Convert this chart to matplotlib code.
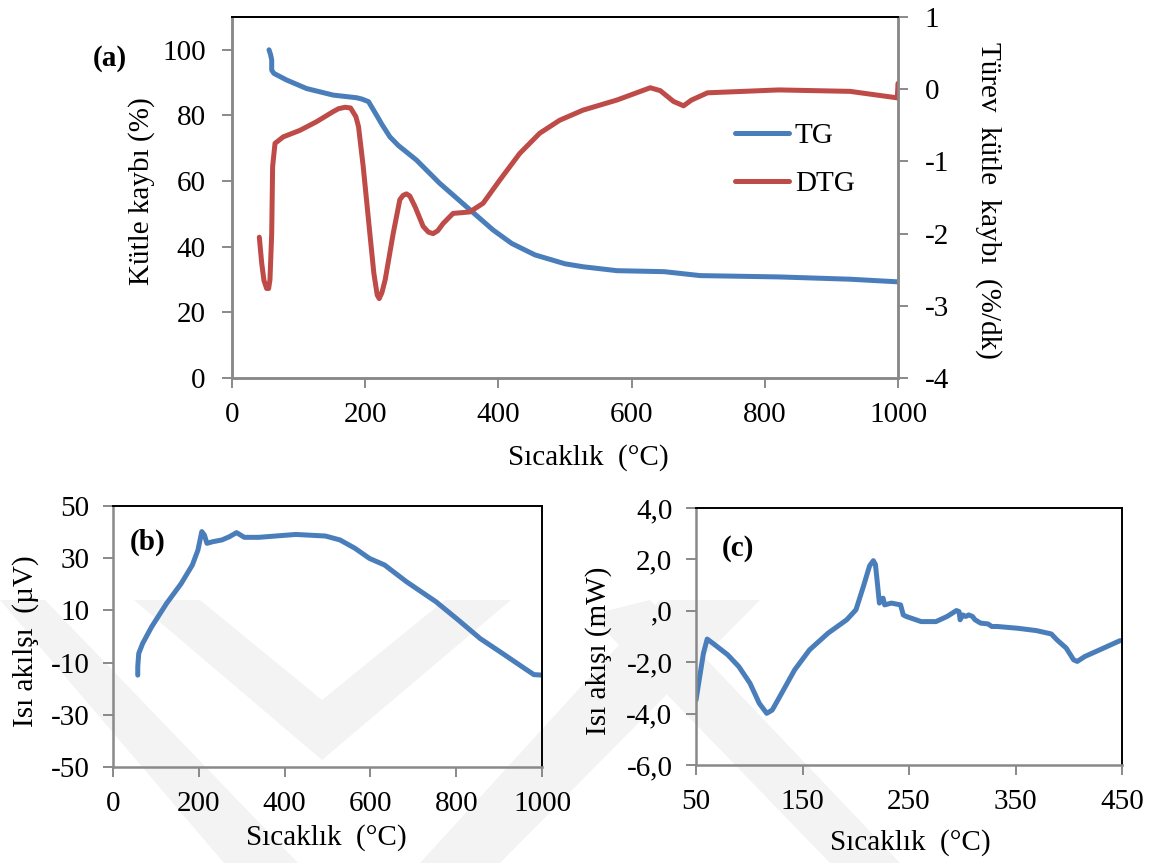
import matplotlib
matplotlib.use('Agg')
import matplotlib.pyplot as plt
from matplotlib.patches import Polygon

plt.rcParams['font.family'] = ['Liberation Serif', 'DejaVu Serif']
plt.rcParams['axes.unicode_minus'] = False

W, H = 1162, 863
blue = '#4A7EBB'
red = '#BE4B48'
grey = '#898989'

# (a) TG / DTG
tg_t = [55.6, 58, 59.6, 59.6, 63, 82, 112, 152, 187, 195, 205, 217, 225, 237, 250,
        277, 312, 352, 392, 420, 455, 500, 527, 578, 649, 703, 821, 928, 1000]
tg = [100, 98.5, 96.9, 93.8, 92.8, 90.8, 88.2, 86.2, 85.4, 85.0, 84.2, 80.1, 77.3,
      73.5, 70.8, 66.4, 59.3, 52.2, 45.1, 41.0, 37.5, 34.8, 33.9, 32.7, 32.4,
      31.2, 30.8, 30.1, 29.3]

dtg_t = [41, 44.6, 48, 52, 55, 57, 59.6, 61, 64.6, 77, 102, 127, 152, 160, 170,
         178, 186, 190, 197, 207, 213, 218, 221, 225, 230, 242, 252, 257, 262,
         267, 275, 287, 295, 302, 309, 317, 332, 345, 357, 377, 402, 432, 462,
         492, 527, 578, 628, 643, 663, 678, 690, 714, 821, 928, 999, 1000]
dtg = [-2.05, -2.41, -2.65, -2.76, -2.76, -2.64, -2.0, -1.07, -0.75, -0.66, -0.57,
       -0.45, -0.31, -0.27, -0.25, -0.26, -0.38, -0.52, -1.07, -2.0, -2.55, -2.85,
       -2.90, -2.82, -2.64, -2.0, -1.53, -1.47, -1.45, -1.48, -1.63, -1.90, -1.98,
       -2.0, -1.96, -1.86, -1.72, -1.71, -1.70, -1.58, -1.26, -0.89, -0.61, -0.43,
       -0.29, -0.15, 0.02, -0.02, -0.17, -0.23, -0.15, -0.05, -0.01, -0.03,
       -0.12, 0.08]

# (b) heat flow, uV
b_t = [57.7, 57.7, 60, 69, 90, 125, 159, 185, 198, 207, 213, 219, 232, 254, 271,
       288, 306, 340, 426, 495, 529, 564, 598, 633, 684, 753, 805, 856, 908, 960,
       981, 1000]
b_v = [-14.8, -11.6, -6.5, -2.7, 3.7, 12.7, 20.3, 27.4, 33.1, 40.2, 38.9, 35.7,
       36.3, 37.0, 38.2, 39.8, 38.0, 38.0, 39.1, 38.5, 37.0, 33.8, 29.9, 27.4,
       21.0, 13.3, 6.3, -0.8, -6.5, -12.3, -14.6, -14.8]

# (c) heat flow, mW
c_t = [50, 53.5, 57, 60.5, 65.7, 79.7, 90.2, 100.7, 109.4, 116.4, 121.6, 130.4,
       142.6, 156.6, 174, 191.5, 200.2, 207.2, 213, 216.5, 218.5, 220, 222.2, 223.6,
       225.7, 227.1, 233.4, 242.1, 244.6, 247.4, 261.4, 275.3, 285.8, 294.5, 297,
       298, 300.5, 303.3, 306, 309.6, 312, 317.3, 324.2, 327.7, 333, 352.2, 369.6,
       383.6, 388.9, 397.6, 404.6, 408, 415, 429, 448.2]
c_v = [-3.47, -2.56, -1.65, -1.10, -1.26, -1.71, -2.17, -2.82, -3.60, -3.99, -3.86,
       -3.21, -2.30, -1.52, -0.87, -0.35, 0.04, 0.95, 1.75, 1.95, 1.80, 1.20, 0.30,
       0.43, 0.49, 0.23, 0.30, 0.23, -0.16, -0.22, -0.42, -0.42, -0.22, 0.01,
       -0.03, -0.35, -0.16, -0.22, -0.16, -0.22, -0.35, -0.48, -0.51, -0.61, -0.61,
       -0.68, -0.77, -0.90, -1.13, -1.45, -1.91, -1.97, -1.78, -1.52, -1.16]
c_ticks = [-6, -4, -2, 0, 2, 4]
c_labels = ['-6,0', '-4,0', '-2,0', ',0', '2,0', '4,0']

xlab = 'Sıcaklık  (°C)'
fs = 21


def box(l, t, r, b):
    return [l / W, 1 - b / H, (r - l) / W, (b - t) / H]


def px(x, y):
    return (x / W, 1 - y / H)


def style(ax, right_col='black'):
    ax.set_facecolor('none')
    for s in ['left', 'bottom']:
        ax.spines[s].set_color(grey)
        ax.spines[s].set_linewidth(1.8)
    ax.spines['top'].set_color('black')
    ax.spines['top'].set_linewidth(1.4)
    ax.spines['right'].set_color(right_col)
    ax.spines['right'].set_linewidth(1.4 if right_col == 'black' else 1.8)
    ax.tick_params(direction='out', length=7, width=1.4, color=grey,
                   labelsize=fs, pad=10)


fig = plt.figure(figsize=(W / 100, H / 100), dpi=100)

# watermark bands
wm = [
    [(0, 600), (45, 600), (298, 863), (224, 863)],
    [(134, 600), (200, 600), (322, 700), (445, 600), (511, 600), (322, 760)],
    [(420, 863), (500, 863), (760, 600), (660, 600)],
    [(590, 615), (650, 600), (900, 863), (830, 863)],
]
for pts in wm:
    fig.add_artist(Polygon([px(x, y) for x, y in pts], closed=True,
                           transform=fig.transFigure, facecolor='#F3F3F3',
                           edgecolor='none', zorder=-5))

# (a)
ax = fig.add_axes(box(232, 17, 898, 378))
style(ax, grey)
ax.plot(tg_t, tg, color=blue, lw=3.6, solid_capstyle='round', label='TG')
ax.set_xlim(0, 1000)
ax.set_ylim(0, 110)
ax.set_xticks(range(0, 1001, 200))
ax.set_yticks(range(0, 101, 20))
ax2 = ax.twinx()
style(ax2, grey)
ax2.plot(dtg_t, dtg, color=red, lw=3.6, solid_capstyle='round', label='DTG')
ax2.set_ylim(-4, 1)
ax2.set_yticks(range(-4, 2))
ax2.tick_params(axis='y', direction='out', length=7, width=1.4, color=grey,
                labelsize=fs, pad=12)
ax.tick_params(axis='y', pad=12)
h1, l1 = ax.get_legend_handles_labels()
h2, l2 = ax2.get_legend_handles_labels()
ax2.legend(h1 + h2, l1 + l2, loc='center left', frameon=False, fontsize=fs,
           bbox_to_anchor=((735 - 232) / 666, (378 - 160) / 361),
           borderpad=0, borderaxespad=0, handlelength=1.85,
           handletextpad=0.2, labelspacing=0.75)
fig.text(*px(588, 458), xlab, ha='center', va='center', fontsize=fs)
fig.text(*px(142, 191), 'Kütle kaybı (%)', ha='center', va='center',
         fontsize=fs, rotation=90)
fig.text(*px(988, 200), 'Türev  kütle  kaybı  (%/dk)', ha='center',
         va='center', fontsize=fs, rotation=270)
fig.text(*px(110, 58), '(a)', ha='center', va='center', fontsize=fs,
         fontweight='bold')

# (b)
bx = fig.add_axes(box(113, 506, 542, 767))
style(bx)
bx.plot(b_t, b_v, color=blue, lw=3.6, solid_capstyle='round')
bx.set_xlim(0, 1000)
bx.set_ylim(-50, 50)
bx.set_xticks(range(0, 1001, 200))
bx.set_yticks(range(-50, 51, 20))
fig.text(*px(326, 838), xlab, ha='center', va='center', fontsize=fs)
fig.text(*px(26, 641), 'Isı akılşı  (µV)', ha='center', va='center',
         fontsize=fs, rotation=90)
fig.text(*px(148, 542), '(b)', ha='center', va='center', fontsize=fs,
         fontweight='bold')

# (c)
cx = fig.add_axes(box(696, 508, 1122, 765))
style(cx)
cx.plot(c_t, c_v, color=blue, lw=3.6, solid_capstyle='round')
cx.set_xlim(50, 450)
cx.set_ylim(-6, 4)
cx.set_xticks(range(50, 451, 100))
cx.set_yticks(c_ticks)
cx.set_yticklabels(c_labels)
fig.text(*px(910, 843), xlab, ha='center', va='center', fontsize=fs)
fig.text(*px(599, 651), 'Isı akışı (mW)', ha='center', va='center',
         fontsize=fs, rotation=90)
fig.text(*px(738, 548), '(c)', ha='center', va='center', fontsize=fs,
         fontweight='bold')

fig.savefig('out.png', dpi=100, facecolor='white')
